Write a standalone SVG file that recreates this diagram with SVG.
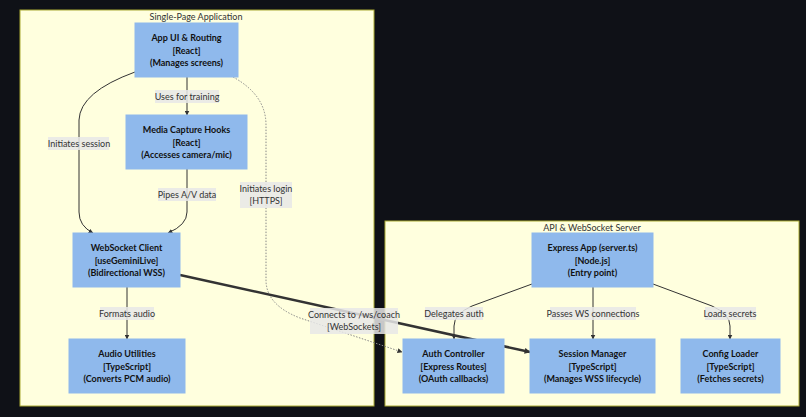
<svg xmlns="http://www.w3.org/2000/svg" width="806" height="417" viewBox="0 0 806 417">
<defs>
<style>
.bg{fill:#0f1117}
.cl{fill:#ffffde;stroke:#aaaa33;stroke-width:1}
.ct{font-family:Lato,"DejaVu Sans",sans-serif;font-size:9px;fill:#333;text-anchor:middle}
.nd{fill:#8fb9ec;stroke:#8fb9ec}
.nt{font-family:Lato,"DejaVu Sans",sans-serif;font-size:9px;font-weight:bold;fill:#111;text-anchor:middle}
.e{fill:none;stroke:#333;stroke-width:1}
.et{fill:none;stroke:#333;stroke-width:2.5}
.ed{fill:none;stroke:#888;stroke-width:1;stroke-dasharray:1.5 1.5}
.lb{fill:#e8e8e8;opacity:0.85}
.lt{font-family:Lato,"DejaVu Sans",sans-serif;font-size:9px;fill:#333;text-anchor:middle}
</style>
<marker id="ah" viewBox="0 0 10 10" refX="9" refY="5" markerWidth="5" markerHeight="5" orient="auto"><path d="M0,0L10,5L0,10z" fill="#333"/></marker>
<marker id="ahT" viewBox="0 0 10 10" refX="9" refY="5" markerWidth="6" markerHeight="6" markerUnits="userSpaceOnUse" orient="auto"><path d="M0,0L10,5L0,10z" fill="#333"/></marker>
</defs>
<rect class="bg" x="0" y="0" width="806" height="417"/>
<g id="cluster-spa">
<rect class="cl" x="20" y="10" width="354" height="396"/>
<text class="ct" x="196" y="19.5">Single-Page Application</text>
</g>
<g id="cluster-api">
<rect class="cl" x="385" y="221" width="414" height="185"/>
<text class="ct" x="592" y="230.5">API &amp; WebSocket Server</text>
</g>
<g id="edges">
<path class="e" d="M187,77L187,115" marker-end="url(#ah)"/>
<path class="e" d="M187,169L187,212Q187,225 168,233" marker-end="url(#ah)"/>
<path class="e" d="M135,72Q80,92 79,120L79,212Q79,226 93,233" marker-end="url(#ah)"/>
<path class="ed" d="M233,77Q266,95 266,125L266,280Q266,305 300,318L402,352" marker-end="url(#ah)"/>
<path class="et" d="M180,275L530,352" marker-end="url(#ahT)"/>
<path class="e" d="M127,287L127,339" marker-end="url(#ah)"/>
<path class="e" d="M532,284L472,306Q454,314 454,326L454,339" marker-end="url(#ah)"/>
<path class="e" d="M593,287L593,339" marker-end="url(#ah)"/>
<path class="e" d="M653,284L712,306Q730,314 730,326L730,339" marker-end="url(#ah)"/>
<rect class="lb" x="155" y="90" width="64" height="13"/>
<text class="lt" x="187" y="99.5">Uses for training</text>
<rect class="lb" x="158" y="188" width="58" height="13"/>
<text class="lt" x="187" y="197.5">Pipes A/V data</text>
<rect class="lb" x="48" y="137" width="61" height="13"/>
<text class="lt" x="79" y="146.5">Initiates session</text>
<rect class="lb" x="240" y="182" width="52" height="26"/>
<text class="lt" x="266" y="191.5">Initiates login</text>
<text class="lt" x="266" y="204">[HTTPS]</text>
<rect class="lb" x="310" y="308" width="88" height="26"/>
<text class="lt" x="354" y="317.5">Connects to /ws/coach</text>
<text class="lt" x="354" y="330">[WebSockets]</text>
<rect class="lb" x="100" y="307" width="54" height="13"/>
<text class="lt" x="127" y="316.5">Formats audio</text>
<rect class="lb" x="425" y="307" width="58" height="13"/>
<text class="lt" x="454" y="316.5">Delegates auth</text>
<rect class="lb" x="550" y="307" width="86" height="13"/>
<text class="lt" x="593" y="316.5">Passes WS connections</text>
<rect class="lb" x="705" y="307" width="51" height="13"/>
<text class="lt" x="730" y="316.5">Loads secrets</text>
</g>
<g id="app-ui">
<rect class="nd" x="135" y="23" width="103" height="54"/>
<text class="nt" x="186.5" y="41">App UI &amp; Routing</text>
<text class="nt" x="186.5" y="53.5">[React]</text>
<text class="nt" x="186.5" y="66">(Manages screens)</text>
</g>
<g id="media-capture">
<rect class="nd" x="126" y="115" width="121" height="54"/>
<text class="nt" x="186.5" y="133">Media Capture Hooks</text>
<text class="nt" x="186.5" y="145.5">[React]</text>
<text class="nt" x="186.5" y="158">(Accesses camera/mic)</text>
</g>
<g id="ws-client">
<rect class="nd" x="73" y="233" width="107" height="54"/>
<text class="nt" x="126.5" y="251">WebSocket Client</text>
<text class="nt" x="126.5" y="263.5">[useGeminiLive]</text>
<text class="nt" x="126.5" y="276">(Bidirectional WSS)</text>
</g>
<g id="audio-utils">
<rect class="nd" x="69" y="339" width="116" height="54"/>
<text class="nt" x="127" y="357">Audio Utilities</text>
<text class="nt" x="127" y="369.5">[TypeScript]</text>
<text class="nt" x="127" y="382">(Converts PCM audio)</text>
</g>
<g id="express-app">
<rect class="nd" x="532" y="233" width="121" height="54"/>
<text class="nt" x="592.5" y="251">Express App (server.ts)</text>
<text class="nt" x="592.5" y="263.5">[Node.js]</text>
<text class="nt" x="592.5" y="276">(Entry point)</text>
</g>
<g id="auth-controller">
<rect class="nd" x="403" y="339" width="101" height="54"/>
<text class="nt" x="453.5" y="357">Auth Controller</text>
<text class="nt" x="453.5" y="369.5">[Express Routes]</text>
<text class="nt" x="453.5" y="382">(OAuth callbacks)</text>
</g>
<g id="session-manager">
<rect class="nd" x="530" y="339" width="125" height="54"/>
<text class="nt" x="592.5" y="357">Session Manager</text>
<text class="nt" x="592.5" y="369.5">[TypeScript]</text>
<text class="nt" x="592.5" y="382">(Manages WSS lifecycle)</text>
</g>
<g id="config-loader">
<rect class="nd" x="681" y="339" width="99" height="54"/>
<text class="nt" x="730.5" y="357">Config Loader</text>
<text class="nt" x="730.5" y="369.5">[TypeScript]</text>
<text class="nt" x="730.5" y="382">(Fetches secrets)</text>
</g>
</svg>
